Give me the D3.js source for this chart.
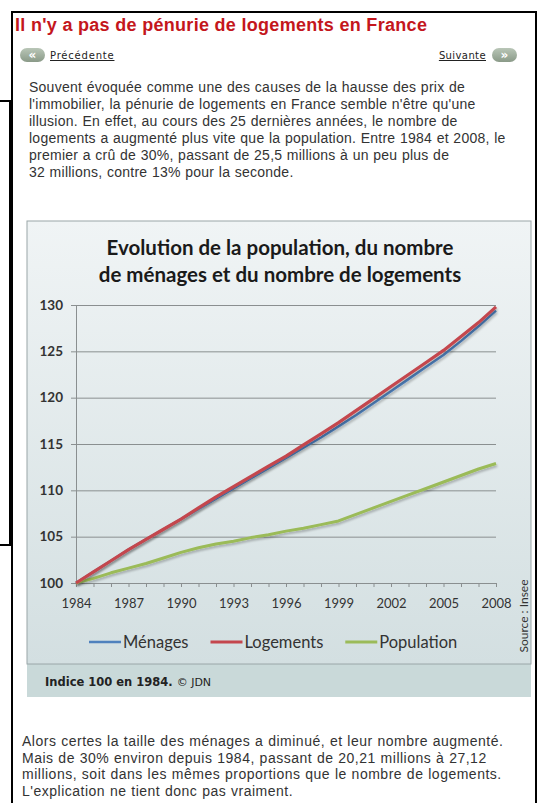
<!DOCTYPE html>
<html><head><meta charset="utf-8">
<script src="https://cdn.jsdelivr.net/npm/d3@7"></script>
<style>
html,body{margin:0;padding:0;background:#fff;}
svg{display:block;}
</style></head>
<body>
<svg id="c" width="539" height="803"></svg>
<script>
// ---------- data ----------
const years = d3.range(1984, 2009);
const labelYears = [1984, 1987, 1990, 1993, 1996, 1999, 2002, 2005, 2008];
const yTicks = [100, 105, 110, 115, 120, 125, 130];
const seriesNames = ["Ménages", "Logements", "Population"];
const menages = [100, 101.2, 102.4, 103.6, 104.7, 105.8, 106.9, 108.0, 109.1, 110.2, 111.3, 112.4, 113.5, 114.6, 115.7, 116.9, 118.1, 119.4, 120.7, 122.0, 123.3, 124.6, 126.1, 127.7, 129.4];
const logements = [100, 101.2, 102.4, 103.6, 104.7, 105.8, 106.9, 108.1, 109.3, 110.4, 111.5, 112.6, 113.7, 114.9, 116.1, 117.3, 118.6, 119.9, 121.2, 122.5, 123.8, 125.1, 126.6, 128.1, 129.8];
const population = [100, 100.5, 101.1, 101.6, 102.1, 102.7, 103.3, 103.8, 104.2, 104.5, 104.9, 105.2, 105.6, 105.9, 106.3, 106.7, 107.4, 108.1, 108.8, 109.5, 110.2, 110.9, 111.6, 112.3, 112.9];
const pageTitle = "Il n'y a pas de pénurie de logements en France";
const chartTitle = ["Evolution de la population, du nombre", "de ménages et du nombre de logements"];
const para1 = [
 "Souvent évoquée comme une des causes de la hausse des prix de",
 "l'immobilier, la pénurie de logements en France semble n'être qu'une",
 "illusion. En effet, au cours des 25 dernières années, le nombre de",
 "logements a augmenté plus vite que la population. Entre 1984 et 2008, le",
 "premier a crû de 30%, passant de 25,5 millions à un peu plus de",
 "32 millions, contre 13% pour la seconde."
];
const para2 = [
 "Alors certes la taille des ménages a diminué, et leur nombre augmenté.",
 "Mais de 30% environ depuis 1984, passant de 20,21 millions à 27,12",
 "millions, soit dans les mêmes proportions que le nombre de logements.",
 "L'explication ne tient donc pas vraiment."
];

const svg = d3.select("#c");
const defs = svg.append("defs");

// ---------- page frame ----------
svg.append("rect").attr("x", 12).attr("y", 12).attr("width", 524).attr("height", 820)
  .attr("fill", "none").attr("stroke", "#000").attr("stroke-width", 2);
svg.append("rect").attr("x", -5).attr("y", 101).attr("width", 15).attr("height", 444)
  .attr("fill", "none").attr("stroke", "#000").attr("stroke-width", 2);

svg.append("text").attr("x", 15).attr("y", 31).text(pageTitle)
  .attr("font-family", "Liberation Sans, Arial, sans-serif").attr("font-weight", "bold")
  .attr("font-size", 18).attr("letter-spacing", 0.3).attr("fill", "#c4161c");

// nav buttons
const btnGrad = defs.append("linearGradient").attr("id", "btn").attr("x1", 0).attr("y1", 0).attr("x2", 0).attr("y2", 1);
btnGrad.append("stop").attr("offset", "0%").attr("stop-color", "#b9c6b7");
btnGrad.append("stop").attr("offset", "100%").attr("stop-color", "#8a9a88");
function navBtn(x, sym) {
  svg.append("rect").attr("x", x).attr("y", 48).attr("width", 25).attr("height", 14).attr("rx", 7)
    .attr("fill", "url(#btn)");
  svg.append("text").attr("x", x + 12.5).attr("y", 59).attr("text-anchor", "middle").text(sym)
    .attr("font-family", "DejaVu Sans, sans-serif").attr("font-size", 12).attr("font-weight", "bold").attr("fill", "#fff");
}
navBtn(20, "«");
navBtn(492, "»");
svg.append("text").attr("x", 50).attr("y", 59).text("Précédente")
  .attr("font-family", "DejaVu Sans, Verdana, sans-serif").attr("font-size", 10).attr("letter-spacing", 0.8)
  .attr("fill", "#222").attr("text-decoration", "underline");
svg.append("text").attr("x", 486).attr("y", 59).attr("text-anchor", "end").text("Suivante")
  .attr("font-family", "DejaVu Sans, Verdana, sans-serif").attr("font-size", 10).attr("letter-spacing", 0.4)
  .attr("fill", "#222").attr("text-decoration", "underline");

// paragraphs
function para(lines, x, y0, lh, ls) {
  const t = svg.append("text").attr("font-family", "Liberation Sans, Arial, sans-serif")
    .attr("font-size", 14).attr("letter-spacing", ls).attr("word-spacing", 0.4).attr("fill", "#333");
  lines.forEach((l, i) => t.append("tspan").attr("x", x).attr("y", y0 + i * lh).text(l));
}
para(para1, 29, 92, 17, 0.25);
para(para2, 22, 746, 16.5, 0.5);

// ---------- chart panel ----------
const panelGrad = defs.append("linearGradient").attr("id", "panel").attr("x1", 0).attr("y1", 0).attr("x2", 0).attr("y2", 1);
panelGrad.append("stop").attr("offset", "0%").attr("stop-color", "#f0f4f5");
panelGrad.append("stop").attr("offset", "100%").attr("stop-color", "#d3dfe1");
svg.append("rect").attr("x", 27).attr("y", 664).attr("width", 504).attr("height", 33).attr("fill", "#c9d9d9");
svg.append("rect").attr("x", 27).attr("y", 221).attr("width", 504).attr("height", 443)
  .attr("fill", "url(#panel)").attr("stroke", "#9aa6a8").attr("stroke-width", 1);

const tt = svg.append("text").attr("text-anchor", "middle").attr("font-family", "Lato, sans-serif")
  .attr("font-weight", "bold").attr("font-size", 20.5).attr("fill", "#1a1a1a");
chartTitle.forEach((l, i) => tt.append("tspan").attr("x", 280).attr("y", 255 + i * 27).text(l));

const x = d3.scaleLinear().domain([1984, 2008]).range([76, 496]);
const y = d3.scaleLinear().domain([100, 130]).range([583, 305]);

// gridlines
const grid = svg.append("g").attr("transform", "translate(76,0)")
  .call(d3.axisLeft(y).tickValues(yTicks.slice(1)).tickSize(-420).tickFormat(""));
grid.select(".domain").remove();
grid.selectAll("line").attr("stroke", "#8a8f90").attr("stroke-width", 1);

// y axis
const ya = svg.append("g").attr("transform", "translate(76,0)")
  .call(d3.axisLeft(y).tickValues(yTicks).tickSize(5).tickPadding(8).tickSizeOuter(0));
ya.select(".domain").attr("stroke", "#8a8f90");
ya.selectAll("line").attr("stroke", "#8a8f90");
ya.selectAll("text").attr("font-family", "Lato, sans-serif").attr("font-weight", "bold")
  .attr("font-size", 13.5).attr("fill", "#333");

// x axis
const xa = svg.append("g").attr("transform", "translate(0,583)")
  .call(d3.axisBottom(x).tickValues(years).tickSize(4).tickPadding(12).tickSizeOuter(0)
    .tickFormat(d => labelYears.includes(d) ? String(d) : ""));
xa.select(".domain").attr("stroke", "#8a8f90");
xa.selectAll("line").attr("stroke", "#8a8f90");
xa.selectAll("text").attr("font-family", "Lato, sans-serif").attr("font-size", 13).attr("fill", "#333");

// lines
const shadow = defs.append("filter").attr("id", "sh").attr("x", "-5%").attr("y", "-5%").attr("width", "110%").attr("height", "110%");
shadow.append("feGaussianBlur").attr("in", "SourceAlpha").attr("stdDeviation", 1).attr("result", "b");
shadow.append("feOffset").attr("in", "b").attr("dx", 1).attr("dy", 1.5).attr("result", "o");
shadow.append("feComponentTransfer").attr("in", "o").attr("result", "o2")
  .append("feFuncA").attr("type", "linear").attr("slope", 0.25);
const mrg = shadow.append("feMerge");
mrg.append("feMergeNode").attr("in", "o2");
mrg.append("feMergeNode").attr("in", "SourceGraphic");

const colors = {"Ménages": "#4f81bd", "Logements": "#c4464d", "Population": "#9bbb59"};
const widths = {"Ménages": 2.5, "Logements": 3.2, "Population": 3};
const seriesData = {"Ménages": menages, "Logements": logements, "Population": population};
const line = d3.line().x((d, i) => x(years[i])).y(d => y(d));
["Ménages", "Population", "Logements"].forEach(n => {
  svg.append("path").datum(seriesData[n]).attr("d", line).attr("fill", "none")
    .attr("stroke", colors[n]).attr("stroke-width", widths[n]).attr("stroke-linejoin", "round")
    .attr("filter", "url(#sh)");
});

// legend
let lx = 89;
const ly = 642;
seriesNames.forEach(n => {
  svg.append("line").attr("x1", lx).attr("x2", lx + 32).attr("y1", ly).attr("y2", ly)
    .attr("stroke", colors[n]).attr("stroke-width", widths[n]);
  const t = svg.append("text").attr("x", lx + 34).attr("y", ly + 6).text(n)
    .attr("font-family", "Lato, sans-serif").attr("font-size", 16.5).attr("fill", "#333");
  lx += 34 + t.node().getComputedTextLength() + 22;
});

// source
svg.append("text").attr("transform", "translate(528,616) rotate(-90)").attr("text-anchor", "middle")
  .text("Source : Insee").attr("font-family", "Lato, sans-serif").attr("font-size", 12).attr("fill", "#333");

// footer
const ft = svg.append("text").attr("x", 45).attr("y", 686)
  .attr("font-family", "DejaVu Sans, Verdana, sans-serif").attr("font-size", 11.5).attr("fill", "#222");
ft.append("tspan").attr("font-weight", "bold").text("Indice 100 en 1984.");
ft.append("tspan").attr("dx", 4).attr("font-size", 11).text("© JDN");
</script>
</body></html>
